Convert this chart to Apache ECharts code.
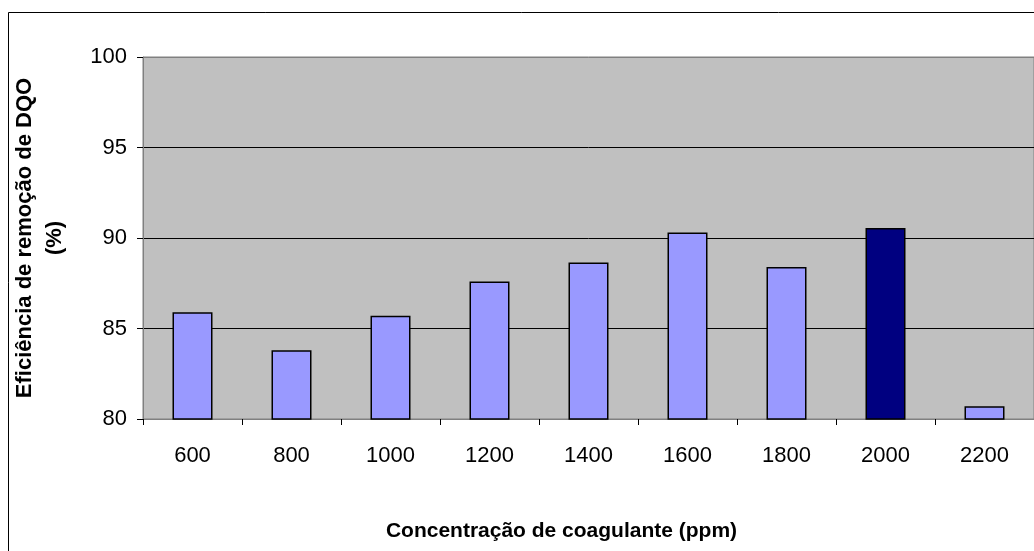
<!DOCTYPE html>
<html>
<head>
<meta charset="utf-8">
<script src="https://cdn.jsdelivr.net/npm/echarts@6/dist/echarts.min.js"></script>
<style>
html,body{margin:0;padding:0;background:#fff;}
#chart{width:1034px;height:551px;}
</style>
</head>
<body>
<div id="chart"></div>
<script>
const categories = ['600','800','1000','1200','1400','1600','1800','2000','2200'];
const efficiency = [85.9, 83.8, 85.7, 87.6, 88.65, 90.3, 88.4, 90.55, 80.7];
const highlightIndex = 7;
const yTicks = [80, 85, 90, 95, 100];

const sans = '"Liberation Sans", Arial, sans-serif';
const chart = echarts.init(document.getElementById('chart'));
chart.setOption({
  animation: false,
  backgroundColor: '#fff',
  graphic: [{
    type: 'rect',
    shape: {x: 8.5, y: 12.5, width: 1200, height: 700},
    style: {fill: 'none', stroke: '#000', lineWidth: 1},
    z: -10
  }],
  grid: {
    left: 143, right: 0, top: 57, bottom: 132,
    show: true, backgroundColor: '#C0C0C0', borderColor: '#808080', borderWidth: 1
  },
  xAxis: {
    type: 'category',
    data: categories,
    axisLine: {lineStyle: {color: '#808080', width: 1}},
    axisTick: {show: true, length: 6, lineStyle: {color: '#000'}},
    axisLabel: {color: '#000', fontFamily: sans, fontSize: 22, margin: 26},
    name: 'Concentração de coagulante (ppm)',
    nameLocation: 'middle',
    nameGap: 102,
    nameTextStyle: {color: '#000', fontFamily: sans, fontSize: 21, fontWeight: 'bold', padding: [0, 54, 0, 0]}
  },
  yAxis: {
    type: 'value',
    min: yTicks[0], max: yTicks[yTicks.length - 1], interval: 5,
    axisLine: {show: true, lineStyle: {color: '#808080'}},
    axisTick: {show: true, length: 6, lineStyle: {color: '#000'}},
    axisLabel: {color: '#000', fontFamily: sans, fontSize: 22, margin: 16},
    splitLine: {show: true, lineStyle: {color: ['#808080', '#000', '#000', '#000', '#808080'], width: 1}},
    name: 'Eficiência de remoção de DQO\n(%)',
    nameLocation: 'middle',
    nameGap: 73,
    nameRotate: 90,
    nameTextStyle: {color: '#000', fontFamily: sans, fontSize: 22, fontWeight: 'bold', lineHeight: 30, align: 'center'}
  },
  series: [{
    type: 'bar',
    barWidth: 40,
    data: efficiency.map((v, i) => ({
      value: v,
      itemStyle: {color: i === highlightIndex ? '#000080' : '#9999FF'}
    })),
    itemStyle: {borderColor: '#000', borderWidth: 1.5}
  }]
});
</script>
</body>
</html>
